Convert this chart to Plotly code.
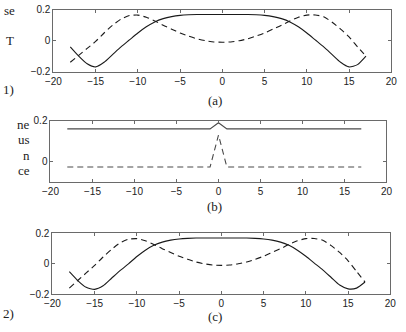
import plotly.graph_objects as go

# ---------------- data ----------------
x_vals = list(range(-18, 18))

a_solid = [-0.04, -0.10, -0.15, -0.17, -0.14, -0.09, -0.04, 0.005, 0.05, 0.09,
           0.122, 0.143, 0.156, 0.164, 0.168, 0.17, 0.17, 0.17, 0.17, 0.17,
           0.17, 0.17, 0.168, 0.164, 0.156, 0.143, 0.122, 0.09, 0.05, 0.005,
           -0.04, -0.09, -0.14, -0.17, -0.155, -0.10]
a_dash = [-0.14, -0.095, -0.05, -0.005, 0.05, 0.10, 0.14, 0.163, 0.166, 0.152,
          0.128, 0.10, 0.075, 0.05, 0.03, 0.012, 0.0, -0.008, -0.01, -0.008,
          0.0, 0.012, 0.03, 0.05, 0.075, 0.10, 0.128, 0.152, 0.166, 0.167,
          0.155, 0.12, 0.075, 0.025, -0.04, -0.10]

b_solid = [0.16] * 17 + [0.16, 0.19, 0.16] + [0.16] * 16
b_solid = b_solid[:36]
b_dash = [-0.025] * 17 + [-0.025, 0.13, -0.025] + [-0.025] * 16
b_dash = b_dash[:36]

c_solid = [-0.052, -0.11, -0.155, -0.168, -0.145, -0.095, -0.045, 0.0, 0.048, 0.09,
           0.122, 0.143, 0.156, 0.164, 0.168, 0.17, 0.17, 0.17, 0.17, 0.17,
           0.17, 0.17, 0.168, 0.164, 0.156, 0.143, 0.122, 0.09, 0.05, 0.005,
           -0.04, -0.09, -0.14, -0.165, -0.16, -0.12]
c_dash = [-0.16, -0.11, -0.06, -0.01, 0.045, 0.095, 0.138, 0.162, 0.166, 0.152,
          0.128, 0.10, 0.075, 0.05, 0.03, 0.012, 0.0, -0.008, -0.01, -0.008,
          0.0, 0.012, 0.03, 0.05, 0.075, 0.10, 0.128, 0.152, 0.166, 0.167,
          0.155, 0.12, 0.075, 0.02, -0.05, -0.12]

x_ticks = [-20, -15, -10, -5, 0, 5, 10, 15, 20]
captions = ["(a)", "(b)", "(c)"]
margin_texts = ["se", "T", "1)", "ne", "us", "n", "ce", "2)"]

# ---------------- figure ----------------
W, H = 406, 332
fig = go.Figure()

panels = [
    # (solid, dash, xdom px, ydom px (top,bottom), yrange, yticks)
    (a_solid, a_dash, (47, 397), (4, 68), [-0.2, 0.2], [-0.2, 0, 0.2]),
    (b_solid, b_dash, (44, 392), (119, 183), [-0.1, 0.2], [0, 0.2]),
    (c_solid, c_dash, (46, 396), (236, 299), [-0.2, 0.2], [-0.2, 0, 0.2]),
]

line_col = "#1a1a1a"
frame_col = "#6a6a6a"
tick_font = dict(family="Liberation Sans, Arial, sans-serif", size=10, color="#222")

for i, (ys, yd, xd, yd_px, yr, yt) in enumerate(panels):
    n = "" if i == 0 else str(i + 1)
    xa, ya = "x" + n, "y" + n
    lc = line_col if i != 1 else "#4a4a4a"
    smooth = i != 1
    fig.add_trace(go.Scatter(x=x_vals, y=ys, mode="lines", xaxis=xa, yaxis=ya,
                             line=dict(color=lc, width=1.1,
                                       shape="spline" if smooth else "linear",
                                       smoothing=0.6 if smooth else None),
                             showlegend=False))
    fig.add_trace(go.Scatter(x=x_vals, y=yd, mode="lines", xaxis=xa, yaxis=ya,
                             line=dict(color=lc, width=1.1, dash="6px,4px",
                                       shape="spline" if smooth else "linear",
                                       smoothing=0.6 if smooth else None),
                             showlegend=False))
    common = dict(showgrid=False, zeroline=False, showline=True, linecolor=frame_col,
                  linewidth=1, mirror="allticks", ticks="inside", ticklen=3,
                  tickcolor=frame_col, tickfont=tick_font)
    fig.update_layout(**{
        "xaxis" + n: dict(domain=[xd[0] / W, xd[1] / W], range=[-20, 20],
                          tickvals=x_ticks, anchor=ya, **common),
        "yaxis" + n: dict(domain=[1 - yd_px[1] / H, 1 - yd_px[0] / H], range=yr,
                          tickvals=yt, anchor=xa, **common),
    })

cap_y = [98, 208, 322]
for cap, cy in zip(captions, cap_y):
    fig.add_annotation(text=cap, x=214 / W, y=1 - cy / H, xref="paper", yref="paper",
                       showarrow=False, xanchor="center", yanchor="middle",
                       font=dict(family="Liberation Serif, Times New Roman, serif",
                                 size=13, color="#222"))

margin_pos = [(9, 5), (8, 36), (8, 87), (25, 123), (25, 139), (25, 155), (25, 171), (8, 319)]
for t, (mx, my) in zip(margin_texts, margin_pos):
    fig.add_annotation(text=t, x=mx / W, y=1 - my / H, xref="paper", yref="paper",
                       showarrow=False, xanchor="right", yanchor="middle",
                       font=dict(family="Liberation Serif, Times New Roman, serif",
                                 size=13, color="#222"))

fig.update_layout(width=W, height=H, margin=dict(l=0, r=0, t=0, b=0),
                  paper_bgcolor="white", plot_bgcolor="white")

fig.write_html("out.html")
